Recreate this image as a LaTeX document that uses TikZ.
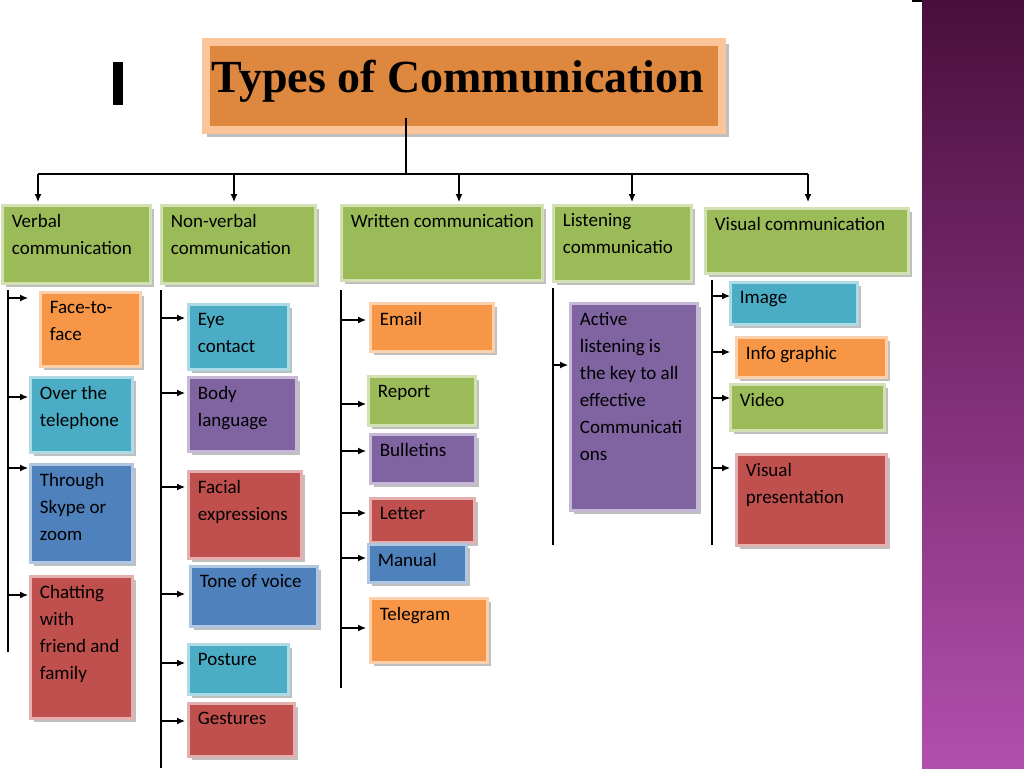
\documentclass[tikz,border=0pt]{standalone}
\usepackage{fontspec}
\setmainfont{Carlito}
\newfontfamily\ttl{Liberation Serif}
\usetikzlibrary{arrows.meta}
\definecolor{cor}{HTML}{F79646}
\definecolor{cte}{HTML}{4BACC6}
\definecolor{cbl}{HTML}{4F81BD}
\definecolor{cre}{HTML}{C0504D}
\definecolor{cpu}{HTML}{8064A2}
\definecolor{cgr}{HTML}{9BBB59}
\definecolor{bandtop}{HTML}{4A0E3C}
\definecolor{bandbot}{HTML}{B24FAE}
\tikzset{
 bx/.style={rectangle,line width=1.5pt,inner sep=0pt},
 lbl/.style={anchor=north west,align=left,inner sep=0pt,font=\fontsize{9.5}{13.5}\selectfont},
 arr/.style={-{Latex[length=4pt,width=3.5pt]},line width=0.6pt},
 ln/.style={line width=0.6pt}
}
\newcommand\bx[7]{%
 \fill[black!25] ({#2+4},{#3+4}) rectangle ({#4+4},{#5+4});
 \node[bx,fill=#6,draw=#6!45!white,minimum width={(#4-#2)*0.5pt},minimum height={(#5-#3)*0.5pt}] (#1) at ({(#2+#4)/2},{(#3+#5)/2}) {};
 \node[lbl] (#1t) at ([xshift=5.5pt,yshift=-5pt]#1.north west) {#7};}
\begin{document}
\begin{tikzpicture}[x=0.5pt,y=-0.5pt]
\useasboundingbox (0,0) rectangle (1024,768);
\fill[white] (0,0) rectangle (1024,768);
\shade[top color=bandtop,bottom color=bandbot] (922,0) rectangle (1024,768);
\fill[black] (912,0) rectangle (922,2);
\fill[black] (113,62) rectangle (123,105);
% title
\fill[black!25] (207,44) rectangle (729,137);
\node[bx,fill=cor!90!black,draw=cor!55!white,line width=4pt,minimum width={516*0.5pt},minimum height={88*0.5pt}] (title) at (464,86) {};
\node[font=\ttl\bfseries\fontsize{23}{26}\selectfont] (titlet) at (458,81) {Types of Communication};
% tree
\coordinate (hl) at (38,174);
\coordinate (hr) at (808,174);
\draw[ln] (406,118) -- (406,174);
\draw[ln] (hl) -- (hr);
\foreach \x in {38,234,459,632,808}{\draw[arr] (\x,174) -- (\x,202);}
% categories
\bx{c1}{2}{205}{150}{283}{cgr}{Verbal\\communication}
\bx{c2}{161}{205}{315}{283}{cgr}{Non-verbal\\communication}
\bx{c3}{341}{205}{542}{280}{cgr}{Written communication}
\bx{c4}{553}{205}{691}{281}{cgr}{Listening\\communicatio}
\bx{c5}{705}{208}{908}{273}{cgr}{Visual communication}
% verbal
\draw[ln] (8,290) -- (8,652);
\foreach \y/\e in {298/28,397/28,468/28,595/28}{\draw[arr] (8,\y) -- (\e,\y);}
\bx{v1}{40}{292}{140}{366}{cor}{Face-to-\\face}
\bx{v2}{30}{377}{132}{452}{cte}{Over the\\telephone}
\bx{v3}{30}{464}{132}{562}{cbl}{Through\\Skype or\\zoom}
\bx{v4}{30}{576}{132}{718}{cre}{Chatting\\with\\friend and\\family}
% nonverbal
\draw[ln] (161,290) -- (161,768);
\foreach \y in {318,393,487,594,663,721}{\draw[arr] (161,\y) -- (185,\y);}
\bx{n1}{188}{304}{288}{369}{cte}{Eye\\contact}
\bx{n2}{188}{377}{296}{451}{cpu}{Body\\language}
\bx{n3}{188}{471}{301}{558}{cre}{Facial\\expressions}
\bx{n4}{190}{566}{317}{626}{cbl}{Tone of voice}
\bx{n5}{188}{644}{288}{694}{cte}{Posture}
\bx{n6}{188}{703}{294}{756}{cre}{Gestures}
% written
\draw[ln] (341,290) -- (341,688);
\foreach \y in {320,404,451,513,558,628}{\draw[arr] (341,\y) -- (366,\y);}
\bx{w1}{370}{303}{493}{351}{cor}{Email}
\bx{w2}{368}{376}{475}{425}{cgr}{Report}
\bx{w3}{370}{434}{475}{483}{cpu}{Bulletins}
\bx{w4}{370}{498}{474}{542}{cre}{Letter}
\bx{w5}{368}{544}{466}{582}{cbl}{Manual}
\bx{w6}{370}{598}{487}{662}{cor}{Telegram}
% listening
\draw[ln] (553,288) -- (553,545);
\draw[arr] (553,365) -- (568,365);
\bx{l1}{570}{303}{697}{510}{cpu}{Active\\listening is\\the key to all\\effective\\Communicati\\ons}
% visual
\draw[ln] (712,280) -- (712,545);
\foreach \y in {296,352,398,468}{\draw[arr] (712,\y) -- (730,\y);}
\bx{s1}{730}{282}{857}{324}{cte}{Image}
\bx{s2}{736}{337}{886}{377}{cor}{Info graphic}
\bx{s3}{730}{384}{884}{430}{cgr}{Video}
\bx{s4}{736}{454}{886}{545}{cre}{Visual\\presentation}
\end{tikzpicture}
\end{document}
